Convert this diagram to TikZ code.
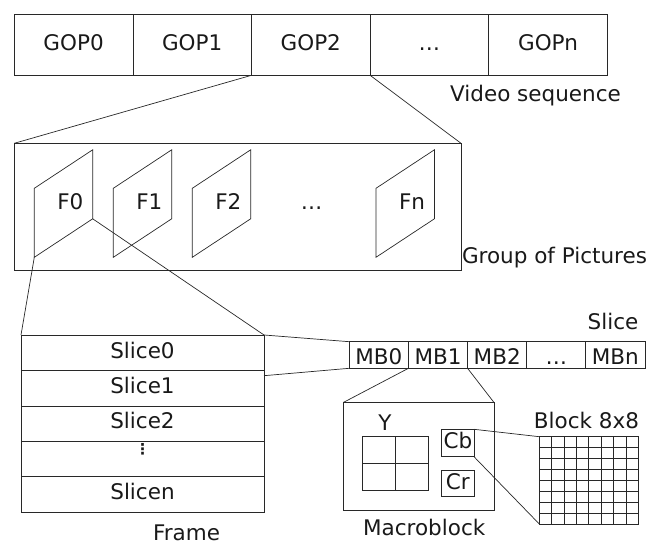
\documentclass[tikz,border=0pt]{standalone}
\usepackage{fontspec}
\setmainfont{DejaVu Sans}
\usetikzlibrary{calc}
\definecolor{ln}{RGB}{40,40,40}
\begin{document}
\begin{tikzpicture}[x=1pt,y=-1pt,
  font=\fontsize{21.5}{26}\selectfont,
  box/.style={draw=ln, line width=0.8pt, inner sep=0pt, outer sep=0pt, anchor=north west},
  txt/.style={anchor=base, inner sep=0pt, outer sep=0pt, text=black!90},
  link/.style={draw=ln, line width=0.7pt},
  frm/.style={draw=ln, line width=0.7pt, line join=miter}]
\useasboundingbox (0,0) rectangle (665,545);

% ---------- Video sequence ----------
\node[box, minimum width=118.6pt, minimum height=60.6pt] (g0) at (14.3,14.7) {};
\node[box, minimum width=118.6pt, minimum height=60.6pt] (g1) at (132.9,14.7) {};
\node[box, minimum width=118.6pt, minimum height=60.6pt] (g2) at (251.5,14.7) {};
\node[box, minimum width=118.6pt, minimum height=60.6pt] (g3) at (370.1,14.7) {};
\node[box, minimum width=118.6pt, minimum height=60.6pt] (g4) at (488.7,14.7) {};
\node[txt] (tg0) at (73.6,50.7) {GOP0};
\node[txt] (tg1) at (192.2,50.7) {GOP1};
\node[txt] (tg2) at (310.8,50.7) {GOP2};
\node[txt] (tg3) at (429.4,50.7) {…};
\node[txt] (tg4) at (548.0,50.7) {GOPn};
\node[txt] (tvs) at (535.5,101.7) {Video sequence};

% ---------- Group of pictures ----------
\node[box, minimum width=446.7pt, minimum height=127.6pt] (gop) at (14.3,143.3) {};
\draw[link] (g2.south west) -- (gop.north west);
\draw[link] (g3.south west) -- (gop.north east);
\node[txt] (tgop) at (554.5,263.3) {Group of Pictures};

\foreach \n/\lx in {0/34.3, 1/113.3, 2/192.3, n/376.0}{
  \coordinate (f\n tl) at (\lx,188.3);
  \coordinate (f\n tr) at (\lx+58.4,149.8);
  \coordinate (f\n br) at (\lx+58.4,218.8);
  \coordinate (f\n bl) at (\lx,257.3);
  \draw[frm] (f\n tl) -- (f\n tr) -- (f\n br) -- (f\n bl) -- cycle;
  \node[txt] (tf\n) at (\lx+36,209.3) {F\n};
}
\node[txt] (tfd) at (311.7,209.3) {…};

% ---------- Frame ----------
\node[box, minimum width=243pt, minimum height=35.46pt] (s0) at (21,335.0) {};
\node[box, minimum width=243pt, minimum height=35.46pt] (s1) at (21,370.46) {};
\node[box, minimum width=243pt, minimum height=35.46pt] (s2) at (21,405.92) {};
\node[box, minimum width=243pt, minimum height=35.46pt] (s3) at (21,441.38) {};
\node[box, minimum width=243pt, minimum height=35.46pt] (s4) at (21,476.84) {};
\node[txt] (ts0) at (142.5,358.3) {Slice0};
\node[txt] (ts1) at (142.5,393.6) {Slice1};
\node[txt] (ts2) at (142.5,429.0) {Slice2};
\node[txt, font=\fontsize{15}{18}\selectfont\bfseries] (ts3) at (142.5,455.0) {⋮};
\node[txt] (ts4) at (142.5,499.6) {Slicen};
\node[txt] (tframe) at (186.5,541.0) {Frame};
\draw[link] (f0bl) -- (s0.north west);
\draw[link] (f0br) -- (s0.north east);

% ---------- Slice ----------
\node[box, minimum width=59.14pt, minimum height=26.6pt] (m0) at (349.3,341.7) {};
\node[box, minimum width=59.14pt, minimum height=26.6pt] (m1) at (408.44,341.7) {};
\node[box, minimum width=59.14pt, minimum height=26.6pt] (m2) at (467.58,341.7) {};
\node[box, minimum width=59.14pt, minimum height=26.6pt] (m3) at (526.72,341.7) {};
\node[box, minimum width=59.14pt, minimum height=26.6pt] (m4) at (585.86,341.7) {};
\node[txt] (tm0) at (378.9,365.0) {MB0};
\node[txt] (tm1) at (438.0,365.0) {MB1};
\node[txt] (tm2) at (497.2,365.0) {MB2};
\node[txt] (tm3) at (556.3,365.0) {…};
\node[txt] (tm4) at (615.4,365.0) {MBn};
\node[txt] (tslice) at (613.0,329.3) {Slice};
\coordinate (s1r) at (264.0,375.7);
\draw[link] (s0.north east) -- (m0.north west);
\draw[link] (s1r) -- (m0.south west);

% ---------- Macroblock ----------
\node[box, minimum width=150.7pt, minimum height=108pt] (mb) at (343.3,402.5) {};
\draw[link] (m1.south west) -- (mb.north west);
\draw[link] (m2.south west) -- (mb.north east);
\node[txt] (tmb) at (424.2,536.0) {Macroblock};

\node[box, minimum width=66pt, minimum height=53.3pt] (yg) at (362.3,436.7) {};
\draw[link] (yg.north) -- (yg.south);
\draw[link] (yg.west) -- (yg.east);
\node[txt] (ty) at (385.0,430.7) {Y};

\node[box, minimum width=32.3pt, minimum height=27.4pt] (cb) at (441.7,429.3) {};
\node[box, minimum width=32.3pt, minimum height=26.7pt] (cr) at (441.7,470.0) {};
\node[txt] (tcb) at (457.9,448.3) {Cb};
\node[txt] (tcr) at (457.9,490.0) {Cr};

% ---------- Block 8x8 ----------
\node[box, minimum width=99pt, minimum height=87.3pt] (bk) at (539.3,436.7) {};
\foreach \k in {1,...,7}{
  \draw[link] ($(bk.north west)+(\k*12.375,0)$) -- ($(bk.south west)+(\k*12.375,0)$);
  \draw[link] ($(bk.north west)+(0,\k*10.9125)$) -- ($(bk.north east)+(0,\k*10.9125)$);
}
\node[txt] (tbk) at (586.5,428.3) {Block 8x8};
\draw[link] (cb.north east) -- (bk.north west);
\draw[link] (cb.south east) -- (bk.south west);
\end{tikzpicture}
\end{document}
